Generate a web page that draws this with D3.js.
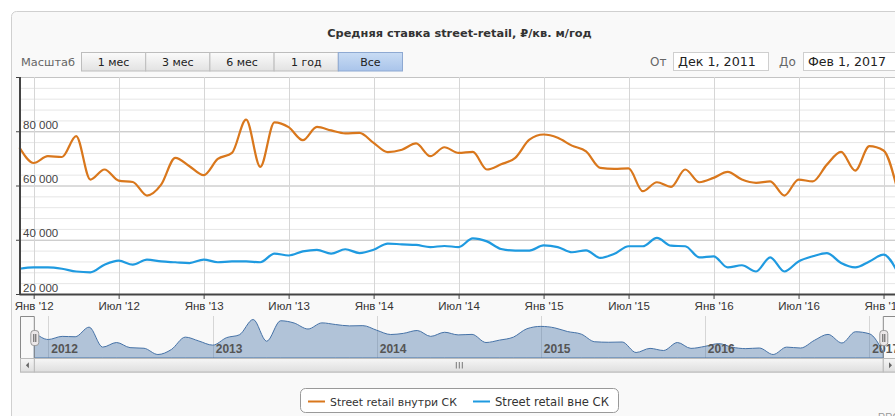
<!DOCTYPE html>
<html>
<head>
<meta charset="utf-8">
<script src="https://cdn.jsdelivr.net/npm/d3@7"></script>
<style>
  body { margin: 0; background: #fff; }
  svg { display: block; }
</style>
</head>
<body>
<svg class="rentChart" width="895" height="416"></svg>
<script>
// monthly points, Dec 2011 .. Feb 2017
const firstMonth = new Date(2011, 11, 1),
      lastMonth = new Date(2017, 1, 1);

const insideSK = [
  74000, 68300, 70800, 70500, 78200, 62200, 65900, 61800, 61300, 56300, 60300, 70200,
  67100, 63800, 69800, 72000, 84300, 66900, 83300, 81500, 76700, 81600, 80300, 79200,
  79400, 75700, 72300, 73200, 75500, 70800, 74100, 72000, 72400, 65900, 67800, 70200,
  76900, 78800, 77600, 74700, 72600, 66500, 66100, 66300, 57900, 61200, 59500, 65900,
  61200, 62800, 65000, 62200, 61000, 61500, 56300, 62200, 61500, 67700, 72400, 65500,
  74500, 72900, 58000
];
const outsideSK = [
  29300, 29800, 29800, 29300, 28300, 28000, 30800, 32300, 30800, 32700, 32000, 31700,
  31400, 32700, 31700, 32000, 32000, 31700, 34900, 34200, 35700, 36300, 34900, 36500,
  35100, 36300, 38600, 38300, 38100, 37300, 37700, 37300, 40500, 39400, 36600, 36000,
  36000, 37900, 37300, 35400, 36100, 33300, 34800, 37600, 37600, 40700, 37800, 37600,
  33500, 33900, 29800, 30600, 28300, 33500, 28300, 32000, 33900, 35100, 31400, 29800,
  32000, 34500, 28000
];

const monthShort = ['Янв', 'Фев', 'Мар', 'Апр', 'Май', 'Июн', 'Июл', 'Авг', 'Сен', 'Окт', 'Ноя', 'Дек'];
const yTickValues = [20000, 40000, 60000, 80000, 100000];
const rangeButtons = ['1 мес', '3 мес', '6 мес', '1 год', 'Все'];
const seriesNames = ['Street retail внутри СК', 'Street retail вне СК'];
const seriesColors = ['#d9771c', '#1f9ae0'];
const chartTitle = 'Средняя ставка street-retail, ₽/кв. м/год';
const fromLabel = 'Дек 1, 2011', toLabel = 'Фев 1, 2017';

const months = d3.timeMonth.range(firstMonth, d3.timeMonth.offset(lastMonth, 1));

const svg = d3.select('svg.rentChart');
const uiFont = "'DejaVu Sans', Verdana, sans-serif",
      axisFont = "'Liberation Sans', Arial, sans-serif";

function fitWidth(sel, w) {
  sel.each(function() {
    const cur = this.getComputedTextLength();
    const fs = parseFloat(d3.select(this).style('font-size'));
    d3.select(this).style('font-size', (fs * w / cur) + 'px');
  });
}

// gradients
const defs = svg.append('defs');
function grad(id, c1, c2) {
  const g = defs.append('linearGradient').attr('id', id)
    .attr('x1', 0).attr('y1', 0).attr('x2', 0).attr('y2', 1);
  g.append('stop').attr('offset', '0%').attr('stop-color', c1);
  g.append('stop').attr('offset', '100%').attr('stop-color', c2);
}
grad('btn', '#fbfbfb', '#e2e2e2');
grad('btnSel', '#c9dcf4', '#a9c4ea');
grad('scroll', '#f6f6f6', '#dedede');

// container
svg.append('rect')
  .attr('x', 11.5).attr('y', 11.5)
  .attr('width', 900).attr('height', 430).attr('rx', 5)
  .style('fill', '#f9f9f9').style('stroke', '#d0d0d0');

svg.append('text')
  .text(chartTitle)
  .attr('x', 459.5).attr('y', 36.5)
  .style('text-anchor', 'middle')
  .style('font-family', uiFont).style('font-weight', 'bold')
  .style('font-size', '11px').style('fill', '#333')
  .call(fitWidth, 265);

// range selector
svg.append('text').text('Масштаб')
  .attr('x', 21).attr('y', 66)
  .style('font-family', uiFont).style('font-size', '12px').style('fill', '#666')
  .call(fitWidth, 54);

const btnX = d3.scaleBand().domain(rangeButtons).range([81.5, 402.5]);
const btn = svg.append('g').selectAll('g')
  .data(rangeButtons).enter().append('g')
  .attr('transform', d => `translate(${btnX(d)}, 52.5)`);
btn.append('rect')
  .attr('width', btnX.bandwidth()).attr('height', 18.5)
  .style('fill', d => d === 'Все' ? 'url(#btnSel)' : 'url(#btn)')
  .style('stroke', d => d === 'Все' ? '#8ea9d2' : '#bdbdbd');
btn.append('text').text(d => d)
  .attr('x', btnX.bandwidth() / 2).attr('y', 13.5)
  .style('text-anchor', 'middle')
  .style('font-family', uiFont).style('font-size', '11px').style('fill', '#222');

// date inputs
[['От', 650, 673.5, 95, fromLabel], ['До', 779, 803.5, 100, toLabel]].forEach(([lab, lx, bx, bw, val]) => {
  svg.append('text').text(lab)
    .attr('x', lx).attr('y', 66)
    .style('font-family', uiFont).style('font-size', '12px').style('fill', '#666');
  svg.append('rect')
    .attr('x', bx).attr('y', 52.5).attr('width', bw).attr('height', 18)
    .style('fill', '#fff').style('stroke', '#cfcfcf');
  svg.append('text').text(val)
    .attr('x', bx + 4.5).attr('y', 66)
    .style('font-family', uiFont).style('font-size', '11px').style('fill', '#222')
    .call(fitWidth, 78);
});

// main plot
const plot = {left: 19.5, right: 897.7, top: 77, bottom: 294};

const x = d3.scaleLinear()
  .domain([0, months.length - 1])
  .range([plot.left, plot.right]);

const y = d3.scaleLinear()
  .domain([20000, 100000])
  .range([plot.bottom, plot.top]);

svg.append('rect')
  .attr('x', plot.left).attr('y', plot.top)
  .attr('width', plot.right - plot.left).attr('height', plot.bottom - plot.top)
  .style('fill', '#fff');

const grid = svg.append('g');
grid.selectAll('line.minor')
  .data(d3.range(20000, 100001, 4000)).enter().append('line')
  .attr('class', 'minor')
  .attr('x1', plot.left).attr('x2', plot.right)
  .attr('y1', d => y(d) + 0.5).attr('y2', d => y(d) + 0.5)
  .style('stroke', '#e6e6e6');
grid.selectAll('line.major')
  .data(yTickValues).enter().append('line')
  .attr('class', 'major')
  .attr('x1', plot.left).attr('x2', plot.right)
  .attr('y1', d => y(d) + 0.5).attr('y2', d => y(d) + 0.5)
  .style('stroke', '#c4c4c4');

const xTickIdx = months.map((m, i) => i).filter(i => months[i].getMonth() % 6 === 0);

grid.selectAll('line.vert')
  .data(xTickIdx).enter().append('line')
  .attr('class', 'vert')
  .attr('x1', d => Math.round(x(d)) + 0.5).attr('x2', d => Math.round(x(d)) + 0.5)
  .attr('y1', plot.top).attr('y2', plot.bottom)
  .style('stroke', '#d6d6d6');

const line = d3.line()
  .x((d, i) => x(i))
  .y(d => y(d))
  .curve(d3.curveMonotoneX);

[insideSK, outsideSK].forEach((s, k) => {
  svg.append('path')
    .datum(s)
    .attr('d', line)
    .style('fill', 'none')
    .style('stroke', seriesColors[k])
    .style('stroke-width', 2.2)
    .style('stroke-linejoin', 'round');
});

// y axis
svg.append('line')
  .attr('x1', 20).attr('x2', 20).attr('y1', plot.top).attr('y2', plot.bottom)
  .style('stroke', '#444').style('stroke-width', 2);
svg.append('g').selectAll('line')
  .data(yTickValues).enter().append('line')
  .attr('x1', 16).attr('x2', 20)
  .attr('y1', d => y(d) + 0.5).attr('y2', d => y(d) + 0.5)
  .style('stroke', '#444');
svg.append('g').selectAll('text')
  .data(yTickValues.filter(d => d < 100000)).enter().append('text')
  .text(d => d3.format(',')(d).replace(',', ' '))
  .attr('x', 23).attr('y', d => y(d) - 2.5)
  .style('font-family', axisFont).style('font-size', '11.5px').style('fill', '#444');

// x axis
const xAxis = svg.append('g')
  .attr('transform', `translate(0, ${plot.bottom})`)
  .call(d3.axisBottom(x)
    .tickValues(xTickIdx)
    .tickSize(5)
    .tickFormat(i => `${monthShort[months[i].getMonth()]} '${String(months[i].getFullYear()).slice(2)}`));
xAxis.select('.domain').remove();
xAxis.selectAll('.tick line').style('stroke', '#444');
xAxis.selectAll('text')
  .attr('y', 8)
  .style('font-family', axisFont).style('font-size', '11.5px').style('fill', '#333');
svg.append('line')
  .attr('x1', plot.left).attr('x2', plot.right + 5)
  .attr('y1', plot.bottom + 0.5).attr('y2', plot.bottom + 0.5)
  .style('stroke', '#444').style('stroke-width', 2);

// navigator
const nav = {left: 34.3, right: 883.3, top: 316, bottom: 358};

const navX = d3.scaleTime()
  .domain([firstMonth, lastMonth])
  .range([nav.left, nav.right]);

const navExt = d3.extent(insideSK), pad = (navExt[1] - navExt[0]) * 0.1;
const navY = d3.scaleLinear()
  .domain([navExt[0] - pad, navExt[1] + pad])
  .range([nav.bottom, nav.top]);

const years = d3.timeYear.range(new Date(2012, 0, 1), d3.timeYear.offset(lastMonth, 1));
const navG = svg.append('g');
navG.selectAll('line')
  .data(years).enter().append('line')
  .attr('x1', d => Math.round(navX(d)) + 0.5).attr('x2', d => Math.round(navX(d)) + 0.5)
  .attr('y1', nav.top).attr('y2', nav.bottom)
  .style('stroke', '#d6d6d6');

const area = d3.area()
  .x((d, i) => navX(months[i]))
  .y0(nav.bottom)
  .y1(d => navY(d))
  .curve(d3.curveMonotoneX);
navG.append('path')
  .datum(insideSK)
  .attr('d', area)
  .style('fill', '#4572a7').style('fill-opacity', 0.4)
  .style('stroke', '#4572a7').style('stroke-width', 1);

navG.selectAll('text')
  .data(years).enter().append('text')
  .text(d => d.getFullYear())
  .attr('x', d => navX(d) + 3).attr('y', 353)
  .style('font-family', axisFont).style('font-size', '12px')
  .style('font-weight', 'bold').style('fill', '#555');

navG.append('path')
  .attr('d', `M20.5,${nav.bottom} V${nav.top + 0.5} H${nav.left} V${nav.bottom} M${nav.right},${nav.bottom} V${nav.top + 0.5} H${plot.right}`)
  .style('fill', 'none').style('stroke', '#8a8a8a');

// scrollbar
const sb = {top: 358.5, h: 13.5};
svg.append('rect')
  .attr('x', 20.5).attr('y', sb.top).attr('width', plot.right - 20).attr('height', sb.h)
  .style('fill', '#eeeeee').style('stroke', '#bbb');
svg.append('rect')
  .attr('x', nav.left).attr('y', sb.top).attr('width', nav.right - nav.left).attr('height', sb.h)
  .style('fill', 'url(#scroll)').style('stroke', '#bbb');
[[20.5, nav.left], [nav.right, plot.right]].forEach(([a, b], k) => {
  svg.append('rect')
    .attr('x', a).attr('y', sb.top).attr('width', b - a).attr('height', sb.h)
    .style('fill', 'url(#scroll)').style('stroke', '#bbb');
  const c = (a + b) / 2, m = sb.top + sb.h / 2;
  svg.append('path')
    .attr('d', k === 0 ? `M${c + 1.5},${m - 3} L${c - 1.5},${m} L${c + 1.5},${m + 3} Z`
                       : `M${c - 1.5},${m - 3} L${c + 1.5},${m} L${c - 1.5},${m + 3} Z`)
    .style('fill', '#666');
});
const gripX = (nav.left + nav.right) / 2;
svg.append('g').selectAll('line')
  .data([-3, 0, 3]).enter().append('line')
  .attr('x1', d => gripX + d + 0.5).attr('x2', d => gripX + d + 0.5)
  .attr('y1', sb.top + 3.5).attr('y2', sb.top + 10)
  .style('stroke', '#777');

// navigator handles
[nav.left, nav.right].forEach(hx => {
  svg.append('rect')
    .attr('x', hx - 3.5).attr('y', 330.5).attr('width', 8).attr('height', 15).attr('rx', 3)
    .style('fill', '#ebe7e8').style('stroke', '#999');
  svg.append('path')
    .attr('d', `M${hx - 0.5},334 V342 M${hx + 1.5},334 V342`)
    .style('stroke', '#555');
});

// legend
const legend = svg.append('g');
legend.append('rect')
  .attr('x', 300.5).attr('y', 388.5).attr('width', 318).attr('height', 24).attr('rx', 5)
  .style('fill', '#fff').style('stroke', '#999');
const legX = [[308, 330, 127], [473, 495, 114]];
seriesNames.forEach((n, k) => {
  legend.append('line')
    .attr('x1', legX[k][0]).attr('x2', legX[k][0] + 17)
    .attr('y1', 401.5).attr('y2', 401.5)
    .style('stroke', seriesColors[k]).style('stroke-width', 2);
  legend.append('text').text(n)
    .attr('x', legX[k][1]).attr('y', 405.5)
    .style('font-family', uiFont).style('font-size', '12px').style('fill', '#333')
    .call(fitWidth, legX[k][2]);
});

svg.append('text').text('RRG')
  .attr('x', 878).attr('y', 421)
  .style('font-family', axisFont).style('font-size', '10px').style('fill', '#999');
</script>
</body>
</html>
